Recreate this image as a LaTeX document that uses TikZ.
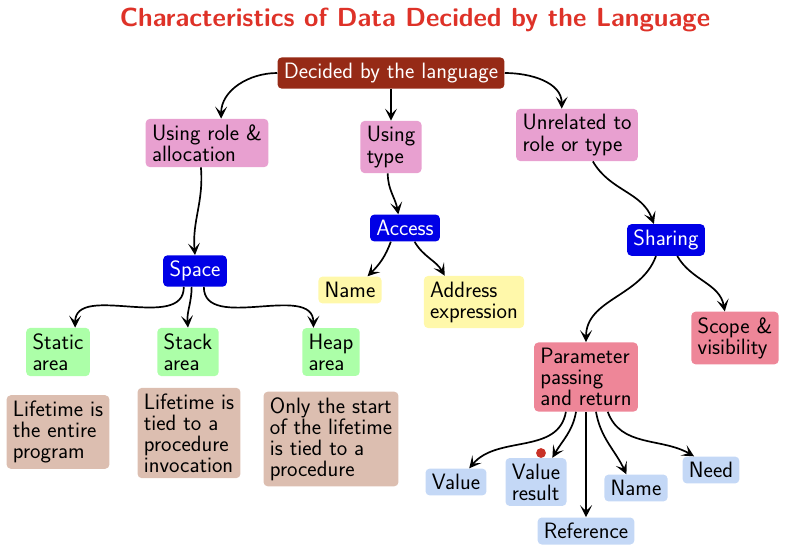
\documentclass[tikz,border=0pt]{standalone}
\usepackage{xcolor}
\usepackage{tikz}
\usetikzlibrary{shapes,arrows.meta}
\definecolor{titlered}{RGB}{222,50,40}
\definecolor{rootbrown}{RGB}{150,42,22}
\definecolor{rolepink}{RGB}{232,160,208}
\definecolor{boxblue}{RGB}{0,0,230}
\definecolor{addryellow}{RGB}{255,248,170}
\definecolor{areagreen}{RGB}{172,255,168}
\definecolor{lifetan}{RGB}{220,190,176}
\definecolor{paramred}{RGB}{238,134,152}
\definecolor{modeblue}{RGB}{196,216,246}
\definecolor{dotred}{RGB}{200,50,40}

\begin{document}
\begin{tikzpicture}[x=0.025cm,y=0.025cm,font=\sffamily\fontsize{15.8}{15}\selectfont]
\tikzstyle{base}=[rectangle,rounded corners=3pt,inner xsep=4.5pt,inner ysep=4pt,align=left]
\tikzstyle{rootn}=[base,fill=rootbrown,text=white]
\tikzstyle{pinkn}=[base,fill=rolepink]
\tikzstyle{bluen}=[base,fill=boxblue,text=white]
\tikzstyle{yellown}=[base,fill=addryellow]
\tikzstyle{greenn}=[base,fill=areagreen]
\tikzstyle{tann}=[base,fill=lifetan]
\tikzstyle{redn}=[base,fill=paramred]
\tikzstyle{moden}=[base,fill=modeblue]
\tikzstyle{arr}=[-{Stealth[length=8.5pt,width=8.5pt,inset=4pt]},line width=1.2pt]
\useasboundingbox (0,0) rectangle (800,-554);
\node (title) [text=titlered,font=\sffamily\bfseries\fontsize{18.6}{20}\selectfont] at (415,-20) {Characteristics of Data Decided by the Language};
\node (root) [rootn] at (391,-73) {Decided by the language};
\node (role) [pinkn] at (207,-143) {Using role \&\\allocation};
\node (typ) [pinkn] at (391,-147) {Using\\type};
\node (unrel) [pinkn] at (577,-135) {Unrelated to\\role or type};
\node (access) [bluen] at (405,-228) {Access};
\node (space) [bluen] at (195,-271) {Space};
\node (sharing) [bluen] at (666,-240) {Sharing};
\node (aname) [yellown] at (350,-290) {Name};
\node (addr) [yellown] at (474,-302) {Address\\expression};
\node (static) [greenn] at (58,-352) {Static\\area};
\node (stack) [greenn] at (188,-352) {Stack\\area};
\node (heap) [greenn] at (331,-352) {Heap\\area};
\node (lstatic) [tann] at (58,-432) {Lifetime is\\the entire\\program};
\node (lstack) [tann] at (189,-433) {Lifetime is\\tied to a\\procedure\\invocation};
\node (lheap) [tann] at (331,-439) {Only the start\\of the lifetime\\is tied to a\\procedure};
\node (param) [redn] at (586,-377) {Parameter\\passing\\and return};
\node (scope) [redn] at (735,-338) {Scope \&\\visibility};
\node (value) [moden] at (456,-482) {Value};
\node (vres) [moden] at (536,-482) {Value\\result};
\node (ref) [moden] at (586,-531) {Reference};
\node (pname) [moden] at (636,-488) {Name};
\node (need) [moden] at (711,-470) {Need};
\node (dot) [circle,fill=dotred,inner sep=0pt,minimum size=7pt] at (541,-453) {};
% top level
\draw[arr] (root.west) to[out=180,in=90] (role.60);
\draw[arr] (root.south) -- (typ.north);
\draw[arr] (root.east) to[out=0,in=90] (unrel.120);
% second level
\draw[arr] (role.256) to[out=-85,in=95] (space.north);
\draw[arr] (typ.263) to[out=-90,in=100] (access.116);
\draw[arr] (unrel.301) to[out=-60,in=110] (sharing.127);
\draw[arr] (access.224) to[out=-110,in=45] (aname.38);
\draw[arr] (access.305) to[out=-60,in=120] (addr.138);
\draw[arr] (space.235) to[out=-90,in=90] (static.55);
\draw[arr] (space.258) to[out=-90,in=95] (stack.north);
\draw[arr] (space.299) to[out=-90,in=90] (heap.126);
\draw[arr] (sharing.238) to[out=-110,in=90] (param.north);
\draw[arr] (sharing.305) to[out=-60,in=100] (scope.111);
% parameter modes
\draw[arr] (param.240) to[out=-100,in=50] (value.46);
\draw[arr] (param.254) to[out=-100,in=60] (vres.56);
\draw[arr] (param.south) -- (ref.north);
\draw[arr] (param.286) to[out=-80,in=115] (pname.125);
\draw[arr] (param.302) to[out=-70,in=150] (need.141);
\end{tikzpicture}
\end{document}
